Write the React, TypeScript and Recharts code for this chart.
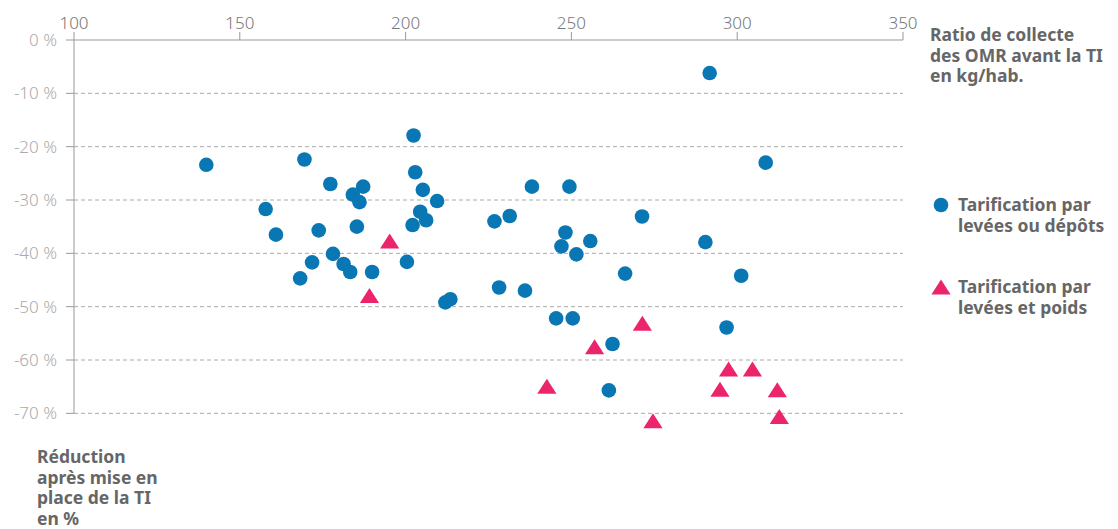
import { ScatterChart, Scatter, XAxis, YAxis, CartesianGrid, ReferenceLine } from "recharts";

const BLUE = "#0a77b5";
const PINK = "#ec246b";

const X_TICKS = [100, 150, 200, 250, 300, 350];
const Y_TICKS = [0, -10, -20, -30, -40, -50, -60, -70];

// Tarification par levées ou dépôts : [kg/hab., réduction %]
const levesDepotsX = [
  139.9, 169.5, 202.4, 177.3, 187.2, 184.1, 186.1, 202.9, 205.2, 209.5, 204.4, 206.2,
  202.1, 157.8, 160.9, 173.8, 185.3, 178.1, 171.8, 181.3, 183.3, 189.9, 168.2, 200.4,
  212.0, 213.5, 291.7, 308.6, 238.1, 249.4, 226.8, 231.4, 271.3, 248.2, 247.0, 255.7,
  251.5, 290.4, 266.2, 301.2, 228.2, 236.0, 245.4, 250.4, 296.8, 262.4, 261.3,
];
const levesDepotsY = [
  -23.4, -22.4, -17.9, -27.0, -27.5, -29.0, -30.4, -24.8, -28.1, -30.2, -32.2, -33.8,
  -34.7, -31.7, -36.5, -35.7, -35.0, -40.1, -41.7, -42.0, -43.5, -43.5, -44.7, -41.6,
  -49.2, -48.6, -6.2, -23.0, -27.5, -27.5, -34.0, -33.0, -33.1, -36.1, -38.7, -37.7,
  -40.2, -37.9, -43.8, -44.2, -46.4, -47.0, -52.2, -52.2, -53.9, -57.0, -65.7,
];

// Tarification par levées et poids
const levesPoidsX = [195.2, 189.1, 242.6, 257.0, 271.4, 274.6, 297.4, 304.6, 294.8, 312.1, 312.7];
const levesPoidsY = [-37.7, -47.9, -64.9, -57.5, -53.1, -71.4, -61.7, -61.7, -65.5, -65.6, -70.6];

const SERIES_NAMES = ["Tarification par levées ou dépôts", "Tarification par levées et poids"];

const dataDepots = levesDepotsX.map((x, i) => ({ x, y: levesDepotsY[i] }));
const dataPoids = levesPoidsX.map((x, i) => ({ x, y: levesPoidsY[i] }));

const FONT = "'Noto Sans', sans-serif";
const LABEL = { fontWeight: 700, fontSize: 17.5, lineHeight: "20.5px", color: "#666" };

function Dot(props: any) {
  const { cx, cy } = props;
  return <circle cx={cx} cy={cy} r={7.3} fill={BLUE} />;
}

function Tri(props: any) {
  const { cx, cy } = props;
  const w = 9.6;
  const h = 7.5;
  return <path d={`M${cx},${cy - h}L${cx + w},${cy + h}L${cx - w},${cy + h}Z`} fill={PINK} />;
}

function LegendBox() {
  const items = [
    { lines: ["Tarification par", "levées ou dépôts"], shape: "circle" },
    { lines: ["Tarification par", "levées et poids"], shape: "triangle" },
  ];
  return (
    <div style={{ position: "absolute", left: 930, top: 194 }}>
      {items.map((it, i) => (
        <div key={i} style={{ display: "flex", alignItems: "flex-start", marginBottom: i === 0 ? 41 : 0 }}>
          <svg width={28} height={22} style={{ flex: "none" }}>
            {it.shape === "circle" ? (
              <circle cx={11} cy={11} r={7.3} fill={BLUE} />
            ) : (
              <path d="M11,3.5L20.6,18.5L1.4,18.5Z" fill={PINK} />
            )}
          </svg>
          <div style={LABEL}>
            {it.lines.map((l) => (
              <div key={l}>{l}</div>
            ))}
          </div>
        </div>
      ))}
    </div>
  );
}

export default function App() {
  return (
    <div style={{ position: "absolute", left: 0, top: 0, width: 1118, height: 529, fontFamily: FONT, background: "#fff" }}>
      {/* y domain goes to -72 so the lowest triangles are not clipped; ticks stop at -70 */}
      <ScatterChart width={1118} height={529} margin={{ top: 10, right: 215, bottom: 105, left: 10 }}>
        <CartesianGrid
          vertical={false}
          horizontal={false}
          stroke="#aaa"
          strokeDasharray="4 3"
        />
        {Y_TICKS.slice(1).map((v) => (
          <ReferenceLine key={v} y={v} stroke="#aaa" strokeDasharray="4 3" />
        ))}
        <XAxis
          type="number"
          dataKey="x"
          orientation="top"
          domain={[100, 350]}
          ticks={X_TICKS}
          height={30}
          tickSize={8}
          tickMargin={3}
          stroke="#999"
          tick={{ fill: "#777", fontSize: 17, fontFamily: FONT, fontWeight: 300 }}
        />
        <YAxis
          type="number"
          dataKey="y"
          domain={[-72, 0]}
          ticks={Y_TICKS}
          width={64}
          tickSize={8}
          tickMargin={9}
          stroke="#999"
          axisLine={false}
          tickFormatter={(v: number) => `${v} %`}
          tick={{ fill: "#aaa", fontSize: 17, fontFamily: FONT, fontWeight: 300 }}
        />
        <ReferenceLine
          segment={[
            { x: 100, y: 0 },
            { x: 100, y: -70 },
          ]}
          stroke="#999"
          strokeWidth={1}
        />
        <Scatter name={SERIES_NAMES[0]} data={dataDepots} shape={Dot} isAnimationActive={false} />
        <Scatter name={SERIES_NAMES[1]} data={dataPoids} shape={Tri} isAnimationActive={false} />
      </ScatterChart>
      <LegendBox />
      <div style={{ position: "absolute", left: 930, top: 24, ...LABEL }}>
        <div>Ratio de collecte</div>
        <div>des OMR avant la TI</div>
        <div>en kg/hab.</div>
      </div>
      <div style={{ position: "absolute", left: 37, top: 446, ...LABEL }}>
        <div>Réduction</div>
        <div>après mise en</div>
        <div>place de la TI</div>
        <div>en %</div>
      </div>
    </div>
  );
}
